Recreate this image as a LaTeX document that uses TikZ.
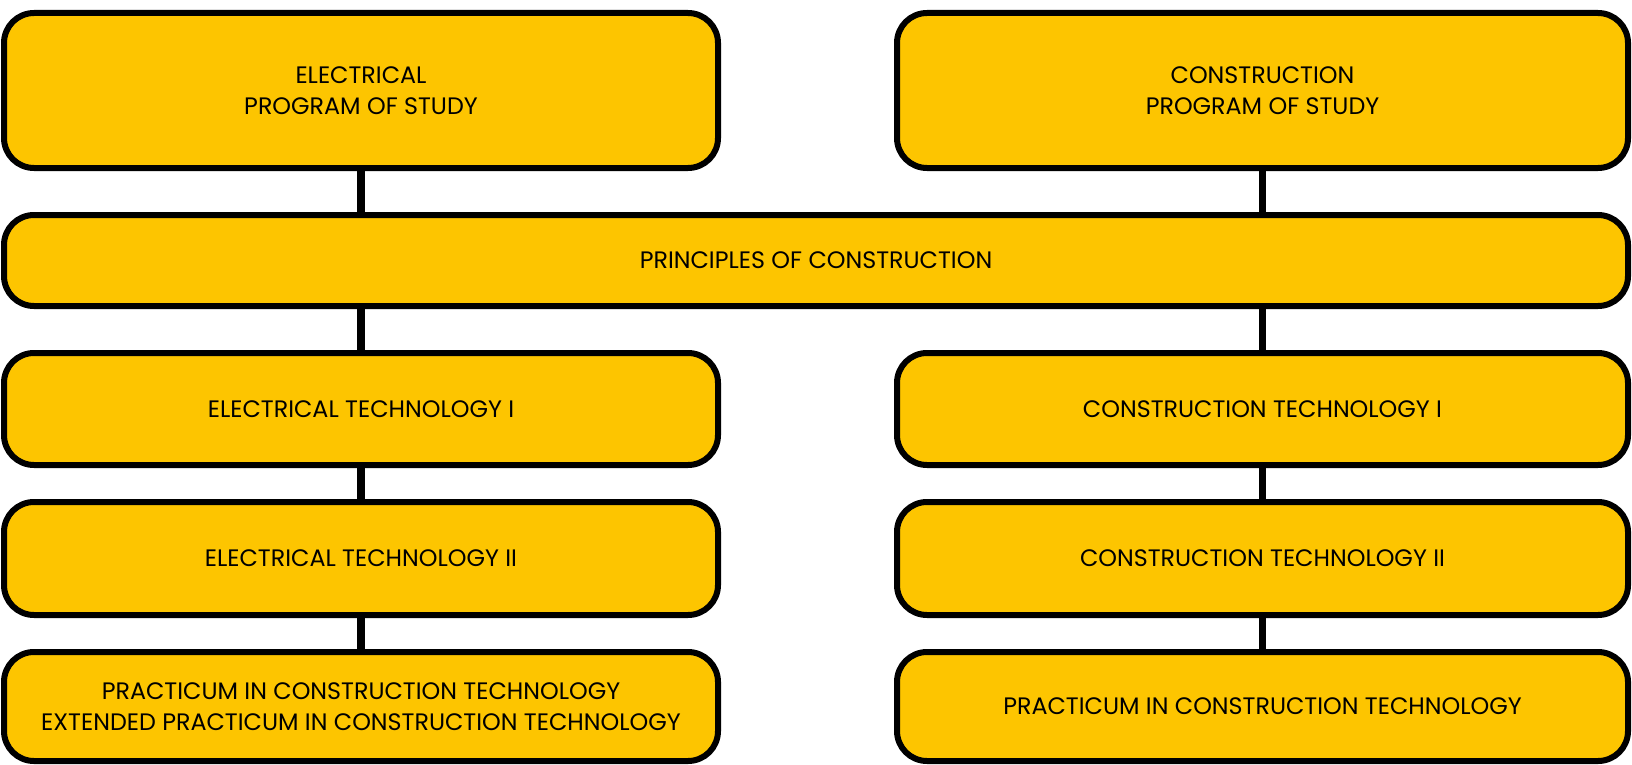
\documentclass[tikz,border=0pt]{standalone}
\usepackage{fontspec}
\setmainfont{Poppins}
\definecolor{boxfill}{RGB}{253,197,0}
\begin{document}
\begin{tikzpicture}[x=1pt,y=-1pt,
  box/.style={draw=black,fill=boxfill,line width=6pt,rounded corners=30pt,
    inner sep=0pt,outer sep=0pt,align=center,
    font=\fontsize{23.8}{31.5}\selectfont},
  link/.style={draw=black,line width=7.5pt}]
\useasboundingbox[fill=white] (0,0) rectangle (1632,765);
\node[box,minimum width=714pt,minimum height=155pt] (e1) at (361,90.5) {ELECTRICAL\\PROGRAM OF STUDY};
\node[box,minimum width=731pt,minimum height=155pt] (c1) at (1262.5,90.5) {CONSTRUCTION\\PROGRAM OF STUDY};
\node[box,minimum width=1624pt,minimum height=91pt] (p) at (816,260.5) {PRINCIPLES OF CONSTRUCTION};
\node[box,minimum width=714pt,minimum height=112pt] (e2) at (361,409) {ELECTRICAL TECHNOLOGY I};
\node[box,minimum width=731pt,minimum height=112pt] (c2) at (1262.5,409) {CONSTRUCTION TECHNOLOGY I};
\node[box,minimum width=714pt,minimum height=113pt] (e3) at (361,558.5) {ELECTRICAL TECHNOLOGY II};
\node[box,minimum width=731pt,minimum height=113pt] (c3) at (1262.5,558.5) {CONSTRUCTION TECHNOLOGY II};
\node[box,minimum width=714pt,minimum height=109pt] (e4) at (361,706.5) {PRACTICUM IN CONSTRUCTION TECHNOLOGY\\EXTENDED PRACTICUM IN CONSTRUCTION TECHNOLOGY};
\node[box,minimum width=731pt,minimum height=109pt] (c4) at (1262.5,706.5) {PRACTICUM IN CONSTRUCTION TECHNOLOGY};
\draw[link] (e1.south) -- (e1.south |- p.north);
\draw[link] (c1.south) -- (c1.south |- p.north);
\draw[link] (e2.north |- p.south) -- (e2.north);
\draw[link] (c2.north |- p.south) -- (c2.north);
\draw[link] (e2.south) -- (e3.north);
\draw[link] (c2.south) -- (c3.north);
\draw[link] (e3.south) -- (e4.north);
\draw[link] (c3.south) -- (c4.north);
\end{tikzpicture}
\end{document}
